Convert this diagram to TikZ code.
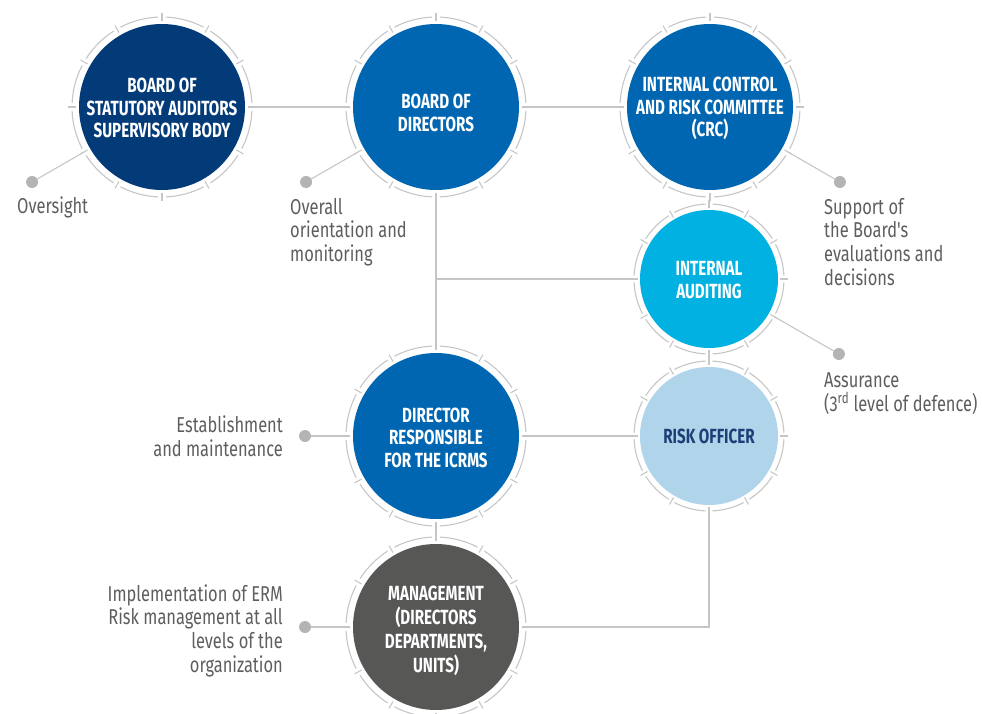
\documentclass[tikz,border=0pt]{standalone}
\usepackage{fontspec}
\setmainfont{Fira Sans}[FakeStretch=0.76]
\newfontfamily\afont{Fira Sans}[FakeStretch=0.765]
\newfontfamily\cfont{Fira Sans}[FakeStretch=0.74]
\usetikzlibrary{calc}
\definecolor{navy}{HTML}{033B79}
\definecolor{midblue}{HTML}{0066B2}
\definecolor{cyanb}{HTML}{00B1E1}
\definecolor{lightb}{HTML}{B0D4EA}
\definecolor{robtext}{HTML}{1C3F78}
\definecolor{mgray}{HTML}{575756}
\definecolor{ringc}{HTML}{C6C6C6}
\definecolor{dotc}{HTML}{B4B4B4}
\definecolor{anntext}{HTML}{5E5E5E}
\tikzset{
  bigc/.style={circle, minimum size=166pt, inner sep=0pt, outer sep=7pt, align=center,
    text=white, font=\cfont\bfseries\fontsize{20.5}{22.6}\selectfont},
  smallc/.style={bigc, minimum size=138pt, outer sep=6pt},
  ctext/.style={inner sep=0pt, align=center, text=white, font=\cfont\bfseries\fontsize{20.5}{22.6}\selectfont},
  ringline/.style={draw=ringc, line width=1.1pt},
  conn/.style={draw=ringc, line width=1.1pt},
  dotn/.style={circle, fill=dotc, minimum size=12pt, inner sep=0pt},
  ann/.style={inner sep=0pt, text=anntext, font=\afont\fontsize{21.5}{23.8}\selectfont},
}
\newcommand\ringof[2]{%
  \foreach \a in {0,30,...,330}{
    \draw[ringline] ([shift={(\a+2.5:#2)}]#1.center) arc[start angle=\a+2.5, end angle=\a+27.5, radius=#2];
    \draw[ringline] ([shift={(\a:#2-4pt)}]#1.center) -- ([shift={(\a:#2+4pt)}]#1.center);
  }}
\begin{document}
\begin{tikzpicture}[x=1pt,y=-1pt]
\useasboundingbox (0,0) rectangle (982,714);
% circles
\node[bigc, fill=navy, label={[name=bsat, ctext, yshift=-1pt]center:BOARD OF\\STATUTORY AUDITORS\\SUPERVISORY BODY}] (bsa) at (162,107) {};
\node[bigc, fill=midblue, label={[name=bodt, ctext, yshift=-6pt]center:BOARD OF\\DIRECTORS}] (bod) at (436,107) {};
\node[bigc, fill=midblue, label={[name=crct, ctext, yshift=-1.5pt]center:INTERNAL CONTROL\\AND RISK COMMITTEE\\(CRC)}] (crc) at (710,107) {};
\node[smallc, fill=cyanb, label={[name=iat, ctext, yshift=-1pt]center:INTERNAL\\AUDITING}] (ia) at (709,279) {};
\node[bigc, fill=midblue, label={[name=drt, ctext, yshift=-1.5pt]center:DIRECTOR\\RESPONSIBLE\\FOR THE ICRMS}] (dr) at (436,436) {};
\node[smallc, fill=lightb, text=robtext] (ro) at (709,436) {RISK OFFICER};
\node[bigc, fill=mgray, label={[name=mgt, ctext, yshift=-3.5pt, font=\cfont\bfseries\fontsize{20.5}{24}\selectfont]center:MANAGEMENT\\(DIRECTORS\\DEPARTMENTS,\\UNITS)}] (mg) at (436,627) {};
% rings
\ringof{bsa}{90pt}
\ringof{bod}{90pt}
\ringof{crc}{90pt}
\ringof{ia}{75pt}
\ringof{dr}{90pt}
\ringof{ro}{75pt}
\ringof{mg}{90pt}
% connectors
\draw[conn] (bsa) -- (bod);
\draw[conn] (bod) -- (crc);
\draw[conn] (crc) -- (ia);
\draw[conn] (bod) -- (dr);
\coordinate (br) at (bod.center |- ia.center);
\draw[conn] (br) -- (ia);
\draw[conn] (ia) -- (ro);
\draw[conn] (dr) -- (ro);
\draw[conn] (dr) -- (mg);
\draw[conn] (ro.south) |- (mg.east);
% annotation dots
\node[dotn] (d1) at ($(bsa.center)+(210:150pt)$) {};
\node[dotn] (d2) at ($(bod.center)+(210:150pt)$) {};
\node[dotn] (d3) at ($(crc.center)+(330:150pt)$) {};
\node[dotn] (d4) at ($(ia.center)+(330:150pt)$) {};
\node[dotn] (d5) at (305,436) {};
\node[dotn] (d6) at (305,627) {};
\draw[conn] (bsa.210) -- (d1);
\draw[conn] (bod.210) -- (d2);
\draw[conn] (crc.330) -- (d3);
\draw[conn] (ia.330) -- (d4);
\draw[conn] (dr.west) -- (d5);
\draw[conn] (mg.west) -- (d6);
% annotation texts (anchor = baseline of last line)
\node[ann, anchor=base west, align=left] (t1) at (17,214) {Oversight};
\node[ann, anchor=base west, align=left] (t2) at (290,261.6) {Overall\\orientation and\\monitoring};
\node[ann, anchor=base west, align=left] (t3) at (824,285.4) {Support of\\the Board's\\evaluations and\\decisions};
\node[ann, anchor=base west, align=left] (t4) at (824,411) {Assurance\\(3\textsuperscript{rd} level of defence)};
\node[ann, anchor=base east, align=right] (t5) at (283,456) {Establishment\\and maintenance};
\node[ann, anchor=base east, align=right] (t6) at (283,672.4) {Implementation of ERM\\Risk management at all\\levels of the\\organization};
\end{tikzpicture}
\end{document}
